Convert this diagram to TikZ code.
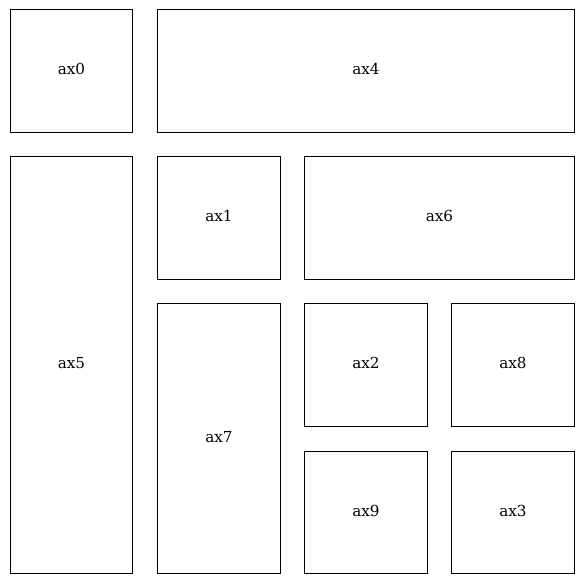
\documentclass[tikz,border=0pt]{standalone}
\usepackage{fontspec}
\setmainfont{DejaVu Serif}
\begin{document}
\begin{tikzpicture}[x=1pt,y=-1pt,
  panel/.style={draw=black,line width=1pt},
  lbl/.style={font=\fontsize{15.2}{17}\selectfont}]
\useasboundingbox (0,0) rectangle (583,583);
\def\pan#1#2#3#4#5{%
  \draw[panel] (#1,#2) rectangle (#3,#4);
  \node[lbl] (#5) at ({(#1+#3)/2},{(#2+#4)/2-1.5}) {#5};}
\pan{10.5}{9.5}{132.5}{132}{ax0}
\pan{157.5}{9.5}{574.5}{132}{ax4}
\pan{10.5}{156.5}{132.5}{573.5}{ax5}
\pan{157.5}{156.5}{280.5}{279}{ax1}
\pan{304.5}{156.5}{574.5}{279}{ax6}
\pan{157.5}{303.5}{280.5}{573.5}{ax7}
\pan{304.5}{303.5}{427.5}{426}{ax2}
\pan{451.5}{303.5}{574.5}{426}{ax8}
\pan{304.5}{451}{427.5}{573.5}{ax9}
\pan{451.5}{451}{574.5}{573.5}{ax3}
\end{tikzpicture}
\end{document}
